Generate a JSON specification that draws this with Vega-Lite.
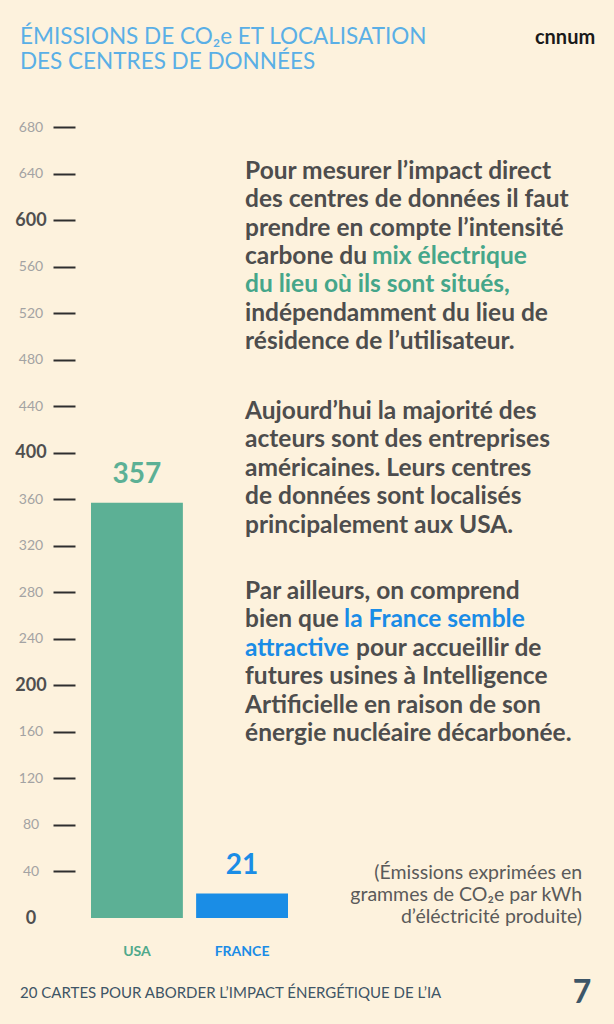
{
  "$schema": "https://vega.github.io/schema/vega-lite/v6.json",
  "width": 539,
  "height": 791,
  "autosize": {"type": "none"},
  "padding": {"left": 75, "top": 127, "right": 0, "bottom": 106},
  "background": "#FDF2DD",
  "config": {"view": {"stroke": null}, "font": "Lato"},
  "title": {
    "text": ["ÉMISSIONS DE CO₂e ET LOCALISATION", "DES CENTRES DE DONNÉES"],
    "anchor": "start",
    "frame": "group",
    "dx": -55,
    "offset": -46,
    "font": "Lato",
    "fontSize": 22.5,
    "fontWeight": "normal",
    "color": "#5AAFE6",
    "lineHeight": 25.5
  },
  "datasets": {
    "emissions": [
      {"pays": "USA", "valeur": 357},
      {"pays": "FRANCE", "valeur": 21}
    ],
    "texte": [
      {"ligne": 0, "texte": "Pour mesurer l’impact direct", "ton": "neutre", "segment": "debut"},
      {"ligne": 1, "texte": "des centres de données il faut", "ton": "neutre", "segment": "debut"},
      {"ligne": 2, "texte": "prendre en compte l’intensité", "ton": "neutre", "segment": "debut"},
      {"ligne": 3, "texte": "carbone du", "ton": "neutre", "segment": "debut"},
      {"ligne": 3, "texte": "mix électrique", "ton": "vert", "segment": "apres_carbone_du"},
      {"ligne": 4, "texte": "du lieu où ils sont situés,", "ton": "vert", "segment": "debut"},
      {"ligne": 5, "texte": "indépendamment du lieu de", "ton": "neutre", "segment": "debut"},
      {"ligne": 6, "texte": "résidence de l’utilisateur.", "ton": "neutre", "segment": "debut"},
      {"ligne": 8.46, "texte": "Aujourd’hui la majorité des", "ton": "neutre", "segment": "debut"},
      {"ligne": 9.46, "texte": "acteurs sont des entreprises", "ton": "neutre", "segment": "debut"},
      {"ligne": 10.46, "texte": "américaines. Leurs centres", "ton": "neutre", "segment": "debut"},
      {"ligne": 11.46, "texte": "de données sont localisés", "ton": "neutre", "segment": "debut"},
      {"ligne": 12.46, "texte": "principalement aux USA.", "ton": "neutre", "segment": "debut"},
      {"ligne": 14.8, "texte": "Par ailleurs, on comprend", "ton": "neutre", "segment": "debut"},
      {"ligne": 15.8, "texte": "bien que", "ton": "neutre", "segment": "debut"},
      {"ligne": 15.8, "texte": "la France semble", "ton": "bleu", "segment": "apres_bien_que"},
      {"ligne": 16.8, "texte": "attractive", "ton": "bleu", "segment": "debut"},
      {"ligne": 16.8, "texte": "pour accueillir de", "ton": "neutre", "segment": "apres_attractive"},
      {"ligne": 17.8, "texte": "futures usines à Intelligence", "ton": "neutre", "segment": "debut"},
      {"ligne": 18.8, "texte": "Artificielle en raison de son", "ton": "neutre", "segment": "debut"},
      {"ligne": 19.8, "texte": "énergie nucléaire décarbonée.", "ton": "neutre", "segment": "debut"}
    ],
    "note": [
      {"ligne": 24.69, "texte": "(Émissions exprimées en"},
      {"ligne": 25.47, "texte": "grammes de CO₂e par kWh"},
      {"ligne": 26.24, "texte": "d’éléctricité produite)"}
    ],
    "pied": [
      {"ligne": 28.93, "texte": "20 CARTES POUR ABORDER L’IMPACT ÉNERGÉTIQUE DE L’IA"}
    ],
    "page": [
      {"ligne": 28.93, "texte": "7"}
    ],
    "logo": [
      {"ligne": -4.71, "texte": "cnnum"}
    ]
  },
  "layer": [
    {
      "data": {"name": "emissions"},
      "layer": [
        {
          "mark": {"type": "bar"},
          "encoding": {
            "x": {
              "field": "pays",
              "type": "nominal",
              "scale": {"domain": ["USA", "FRANCE"], "range": [16, 213], "paddingInner": 0.126, "paddingOuter": 0},
              "axis": {
                "title": null,
                "domain": false,
                "ticks": false,
                "tickSize": 0,
                "labelAngle": 0,
                "labelPadding": 33,
                "labelBaseline": "middle",
                "labelFont": "Lato",
                "labelFontSize": 14,
                "labelFontWeight": "bold",
                "labelColor": {"condition": {"test": "datum.value === 'USA'", "value": "#4FA98B"}, "value": "#1A8CE6"}
              }
            },
            "y": {
              "field": "valeur",
              "type": "quantitative",
              "scale": {"domain": [0, 680], "nice": false, "zero": true},
              "axis": {
                "title": null,
                "domain": false,
                "grid": false,
                "values": [0, 40, 80, 120, 160, 200, 240, 280, 320, 360, 400, 440, 480, 520, 560, 600, 640, 680],
                "labelOverlap": false,
                "labelFlush": false,
                "labelAlign": "center",
                "labelBaseline": "middle",
                "labelPadding": 22.5,
                "labelFont": "Lato",
                "tickSize": 22,
                "tickWidth": 2,
                "tickColor": "#2E2E2E",
                "tickOpacity": {"condition": {"test": "datum.value === 0", "value": 0}, "value": 1},
                "labelFontSize": {"condition": {"test": "datum.value % 200 === 0", "value": 18}, "value": 14},
                "labelFontWeight": {"condition": {"test": "datum.value % 200 === 0", "value": "bold"}, "value": "normal"},
                "labelColor": {"condition": {"test": "datum.value % 200 === 0", "value": "#4F4F4F"}, "value": "#A3A3A3"},
                "encode": {
                  "ticks": {"update": {"x": {"signal": "datum.value % 200 === 0 ? 0 : -6"}}}
                }
              }
            },
            "color": {
              "field": "pays",
              "type": "nominal",
              "scale": {"domain": ["USA", "FRANCE"], "range": ["#5CB095", "#1A8DE6"]},
              "legend": null
            }
          }
        },
        {
          "mark": {"type": "text", "baseline": "alphabetic", "dy": -20, "fontSize": 28, "fontWeight": "bold", "font": "Lato"},
          "encoding": {
            "x": {"field": "pays", "type": "nominal"},
            "y": {"field": "valeur", "type": "quantitative", "scale": {"domain": [0, 680], "nice": false, "zero": true}},
            "text": {"field": "valeur", "type": "quantitative"},
            "color": {"field": "pays", "type": "nominal", "scale": {"domain": ["USA", "FRANCE"], "range": ["#4FA98B", "#1A8CE6"]}, "legend": null}
          }
        }
      ]
    },
    {
      "layer": [
        {
          "data": {"name": "texte"},
          "transform": [{"filter": "datum.segment === 'debut'"}],
          "mark": {"type": "text", "align": "left", "baseline": "middle", "dx": 3, "fontSize": 24.5, "fontWeight": "bold", "font": "Lato"},
          "encoding": {
            "x": {"datum": "FRANCE", "type": "nominal"},
            "y": {"field": "ligne", "type": "quantitative", "scale": {"domain": [0, 1], "range": [44.7, 73.1], "zero": false, "nice": false}, "axis": null},
            "text": {"field": "texte", "type": "nominal"},
            "color": {"field": "ton", "type": "nominal", "scale": {"domain": ["neutre", "vert", "bleu"], "range": ["#4D4D4D", "#45A68A", "#1A8CE6"]}, "legend": null}
          }
        },
        {
          "data": {"name": "texte"},
          "transform": [{"filter": "datum.segment === 'apres_carbone_du'"}],
          "mark": {"type": "text", "align": "left", "baseline": "middle", "dx": 130, "fontSize": 24.5, "fontWeight": "bold", "font": "Lato"},
          "encoding": {
            "x": {"datum": "FRANCE", "type": "nominal"},
            "y": {"field": "ligne", "type": "quantitative", "scale": {"domain": [0, 1], "range": [44.7, 73.1], "zero": false, "nice": false}, "axis": null},
            "text": {"field": "texte", "type": "nominal"},
            "color": {"field": "ton", "type": "nominal", "legend": null}
          }
        },
        {
          "data": {"name": "texte"},
          "transform": [{"filter": "datum.segment === 'apres_bien_que'"}],
          "mark": {"type": "text", "align": "left", "baseline": "middle", "dx": 102, "fontSize": 24.5, "fontWeight": "bold", "font": "Lato"},
          "encoding": {
            "x": {"datum": "FRANCE", "type": "nominal"},
            "y": {"field": "ligne", "type": "quantitative", "scale": {"domain": [0, 1], "range": [44.7, 73.1], "zero": false, "nice": false}, "axis": null},
            "text": {"field": "texte", "type": "nominal"},
            "color": {"field": "ton", "type": "nominal", "legend": null}
          }
        },
        {
          "data": {"name": "texte"},
          "transform": [{"filter": "datum.segment === 'apres_attractive'"}],
          "mark": {"type": "text", "align": "left", "baseline": "middle", "dx": 114, "fontSize": 24.5, "fontWeight": "bold", "font": "Lato"},
          "encoding": {
            "x": {"datum": "FRANCE", "type": "nominal"},
            "y": {"field": "ligne", "type": "quantitative", "scale": {"domain": [0, 1], "range": [44.7, 73.1], "zero": false, "nice": false}, "axis": null},
            "text": {"field": "texte", "type": "nominal"},
            "color": {"field": "ton", "type": "nominal", "legend": null}
          }
        },
        {
          "data": {"name": "note"},
          "mark": {"type": "text", "align": "right", "baseline": "middle", "dx": 340, "fontSize": 19.5, "fontWeight": "normal", "font": "Lato", "color": "#5A5A5A"},
          "encoding": {
            "x": {"datum": "FRANCE", "type": "nominal"},
            "y": {"field": "ligne", "type": "quantitative", "scale": {"domain": [0, 1], "range": [44.7, 73.1], "zero": false, "nice": false}, "axis": null},
            "text": {"field": "texte", "type": "nominal"}
          }
        },
        {
          "data": {"name": "pied"},
          "mark": {"type": "text", "align": "left", "baseline": "middle", "dx": -222, "fontSize": 15, "fontWeight": "normal", "font": "Lato", "color": "#3E5566"},
          "encoding": {
            "x": {"datum": "FRANCE", "type": "nominal"},
            "y": {"field": "ligne", "type": "quantitative", "scale": {"domain": [0, 1], "range": [44.7, 73.1], "zero": false, "nice": false}, "axis": null},
            "text": {"field": "texte", "type": "nominal"}
          }
        },
        {
          "data": {"name": "page"},
          "mark": {"type": "text", "align": "center", "baseline": "middle", "dx": 340, "fontSize": 32, "fontWeight": "bold", "font": "Lato", "color": "#3D5668"},
          "encoding": {
            "x": {"datum": "FRANCE", "type": "nominal"},
            "y": {"field": "ligne", "type": "quantitative", "scale": {"domain": [0, 1], "range": [44.7, 73.1], "zero": false, "nice": false}, "axis": null},
            "text": {"field": "texte", "type": "nominal"}
          }
        },
        {
          "data": {"name": "logo"},
          "mark": {"type": "text", "align": "center", "baseline": "middle", "dx": 323, "fontSize": 20, "fontWeight": "bold", "font": "Lato", "color": "#1A1A1A"},
          "encoding": {
            "x": {"datum": "FRANCE", "type": "nominal"},
            "y": {"field": "ligne", "type": "quantitative", "scale": {"domain": [0, 1], "range": [44.7, 73.1], "zero": false, "nice": false}, "axis": null},
            "text": {"field": "texte", "type": "nominal"}
          }
        }
      ]
    }
  ],
  "resolve": {"scale": {"y": "independent", "color": "independent"}}
}
